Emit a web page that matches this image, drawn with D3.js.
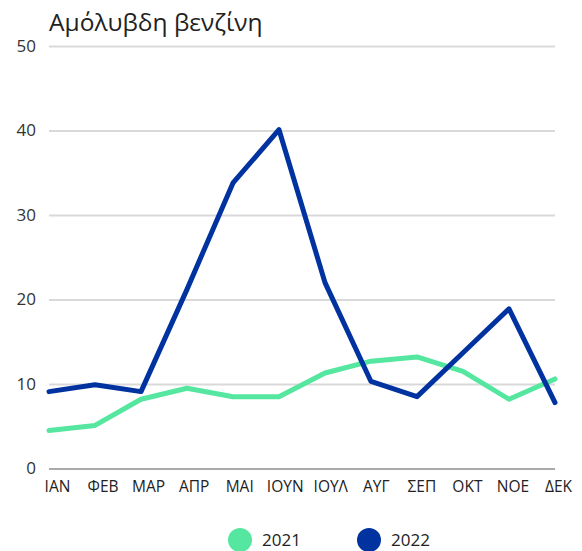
<!DOCTYPE html>
<html>
<head>
<meta charset="utf-8">
<script src="https://cdn.jsdelivr.net/npm/d3@7"></script>
<style>
  body { margin: 0; background: #fff; }
  text { font-family: "Open Sans", "Noto Sans", sans-serif; }
</style>
</head>
<body>
<div id="chart"></div>
<script>
var months = ["ΙΑΝ", "ΦΕΒ", "ΜΑΡ", "ΑΠΡ", "ΜΑΙ", "ΙΟΥΝ", "ΙΟΥΛ", "ΑΥΓ", "ΣΕΠ", "ΟΚΤ", "ΝΟΕ", "ΔΕΚ"];
var values2021 = [4.5, 5.1, 8.2, 9.5, 8.5, 8.5, 11.3, 12.7, 13.2, 11.5, 8.2, 10.6];
var values2022 = [9.1, 9.9, 9.1, 21.2, 33.8, 40.1, 22.0, 10.3, 8.5, 13.7, 18.9, 7.8];
var yTicks = [0, 10, 20, 30, 40, 50];
var seriesNames = ["2021", "2022"];

var w = 582, h = 551;
var margin = {top: 46, right: 27, bottom: 82, left: 49};

var colors = d3.scaleOrdinal().domain(seriesNames).range(["#55E6A0", "#0033A0"]);

var svg = d3.select("#chart").append("svg")
    .attr("width", w)
    .attr("height", h);

var xScale = d3.scalePoint()
    .domain(months)
    .range([margin.left, w - margin.right]);

// labels sit a little off the points in the original
var xLabel = d3.scalePoint()
    .domain(months)
    .range([57, 558]);

var yScale = d3.scaleLinear()
    .domain([0, 50])
    .range([h - margin.bottom - 0.5, margin.top]);

// title
svg.append("text")
    .attr("x", 49)
    .attr("y", 31)
    .attr("font-size", 24.5)
    .attr("fill", "#222")
    .text("Αμόλυβδη βενζίνη");

// gridlines + y labels
var yAxis = svg.append("g")
    .attr("class", "y axis")
    .attr("transform", "translate(" + margin.left + ",0)")
    .call(d3.axisLeft(yScale)
        .tickValues(yTicks)
        .tickSize(-(w - margin.right - margin.left))
        .tickPadding(13));
yAxis.select(".domain").remove();
yAxis.selectAll(".tick line")
    .attr("stroke", function(d) { return d === 0 ? "#aaa" : "#d9d9d9"; })
    .attr("stroke-width", 2);
yAxis.selectAll(".tick text")
    .attr("font-size", 17)
    .attr("fill", "#333")
    .attr("font-family", "'Open Sans', sans-serif");

// x labels
var xAxis = svg.append("g")
    .attr("class", "x axis")
    .attr("transform", "translate(0," + (h - margin.bottom) + ")")
    .call(d3.axisBottom(xLabel).tickSize(0).tickPadding(12));
xAxis.select(".domain").remove();
xAxis.selectAll(".tick text")
    .attr("font-size", 15.5)
    .attr("fill", "#222")
    .attr("font-family", "'Open Sans', sans-serif");

var line = d3.line()
    .x(function(d, i) { return xScale(months[i]); })
    .y(function(d) { return yScale(d); });

[values2021, values2022].forEach(function(vals, i) {
    svg.append("path")
        .datum(vals)
        .attr("fill", "none")
        .attr("stroke", colors(seriesNames[i]))
        .attr("stroke-width", 5)
        .attr("stroke-linejoin", "round")
        .attr("stroke-linecap", "round")
        .attr("d", line);
});

// legend
var legend = svg.selectAll(".legend")
    .data(seriesNames)
    .enter()
    .append("g")
    .attr("transform", function(d, i) { return "translate(" + (240 + i * 129) + ",540)"; });
legend.append("circle")
    .attr("r", 12)
    .attr("fill", function(d) { return colors(d); });
legend.append("text")
    .attr("x", 22)
    .attr("y", 6)
    .attr("font-size", 17)
    .attr("fill", "#222")
    .text(function(d) { return d; });
</script>
</body>
</html>
